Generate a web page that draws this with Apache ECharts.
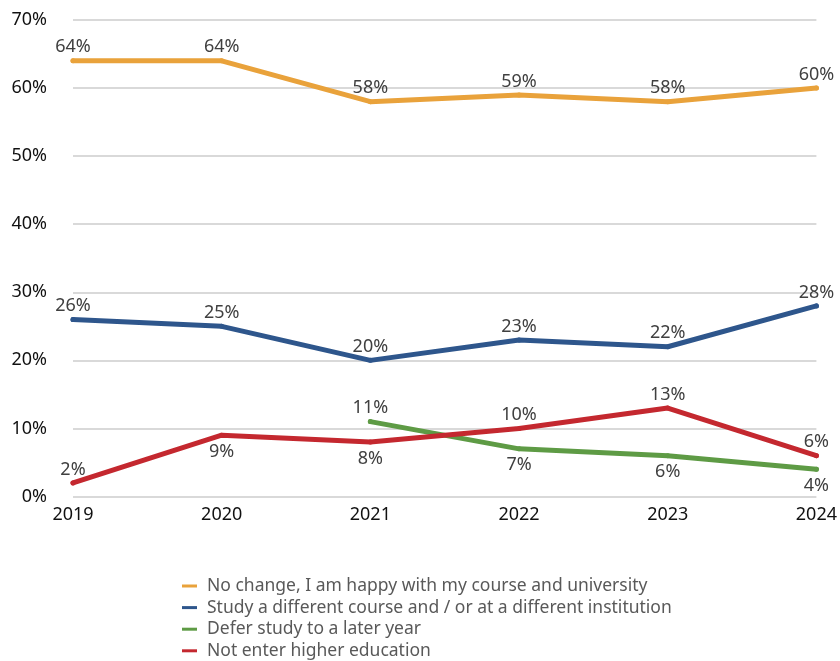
<!DOCTYPE html>
<html>
<head>
<meta charset="utf-8">
<script src="https://cdn.jsdelivr.net/npm/echarts@6/dist/echarts.min.js"></script>
<style>html,body{margin:0;padding:0;background:#fff}#chart{width:840px;height:661px}</style>
</head>
<body>
<div id="chart"></div>
<script>
// Survey years on the horizontal axis
const years = ['2019', '2020', '2021', '2022', '2023', '2024'];
// Share of respondents (%) choosing each option
const noChange = [64, 64, 58, 59, 58, 60];
const differentCourse = [26, 25, 20, 23, 22, 28];
const deferStudy = [null, null, 11, 7, 6, 4];
const notEnter = [2, 9, 8, 10, 13, 6];
// Label side for each point of the lower two series
const deferLabelPos = ['top', 'top', 'top', 'bottom', 'bottom', 'bottom'];
const notEnterLabelPos = ['top', 'bottom', 'bottom', 'top', 'top', 'top'];
// Value-axis ticks
const yTicks = [0, 10, 20, 30, 40, 50, 60, 70];

const FONT = 'Noto Sans';
const labelStyle = { show: true, formatter: p => p.value + '%', color: '#404040', fontSize: 18, fontFamily: FONT };

function makeSeries(name, values, color, positions) {
  return {
    name, type: 'line', data: values.map((v, i) => {
      const pos = positions ? positions[i] : 'top';
      return { value: v, label: { position: pos, distance: pos === 'top' ? 2 : 5 } };
    }),
    // small round markers the same width as the line, so they vanish into it
    symbol: 'circle', symbolSize: 5, showSymbol: true, connectNulls: false,
    lineStyle: { color, width: 5, cap: 'round', join: 'round' },
    itemStyle: { color },
    label: labelStyle,
    emphasis: { disabled: true }, animation: false
  };
}

const chart = echarts.init(document.getElementById('chart'), null, { renderer: 'canvas' });
chart.setOption({
  backgroundColor: '#fff',
  animation: false,
  grid: { left: 73, right: 23, top: 20, bottom: 164.5, containLabel: false },
  xAxis: {
    type: 'category', data: years, boundaryGap: false,
    axisLine: { show: false }, axisTick: { show: false },
    axisLabel: { color: '#111', fontSize: 18, fontFamily: FONT, margin: 9 }
  },
  yAxis: {
    type: 'value', min: yTicks[0], max: yTicks[yTicks.length - 1], interval: 10,
    axisLine: { show: false }, axisTick: { show: false },
    axisLabel: { color: '#111', fontSize: 18, fontFamily: FONT, margin: 26, formatter: '{value}%' },
    splitLine: { lineStyle: { color: '#d9d9d9', width: 2 } }
  },
  legend: {
    orient: 'vertical', left: 182, top: 577, padding: 0,
    itemWidth: 15, itemHeight: 3, itemGap: 3.6, icon: 'rect',
    textStyle: { color: '#595959', fontSize: 17.5, fontFamily: FONT, lineHeight: 18, padding: [0, 0, 0, 5] },
    data: ['No change, I am happy with my course and university',
           'Study a different course and / or at a different institution',
           'Defer study to a later year',
           'Not enter higher education']
  },
  series: [
    makeSeries('No change, I am happy with my course and university', noChange, '#E9A23B'),
    makeSeries('Study a different course and / or at a different institution', differentCourse, '#2E568C'),
    makeSeries('Defer study to a later year', deferStudy, '#5E9B45', deferLabelPos),
    makeSeries('Not enter higher education', notEnter, '#C4282F', notEnterLabelPos)
  ]
});
</script>
</body>
</html>
